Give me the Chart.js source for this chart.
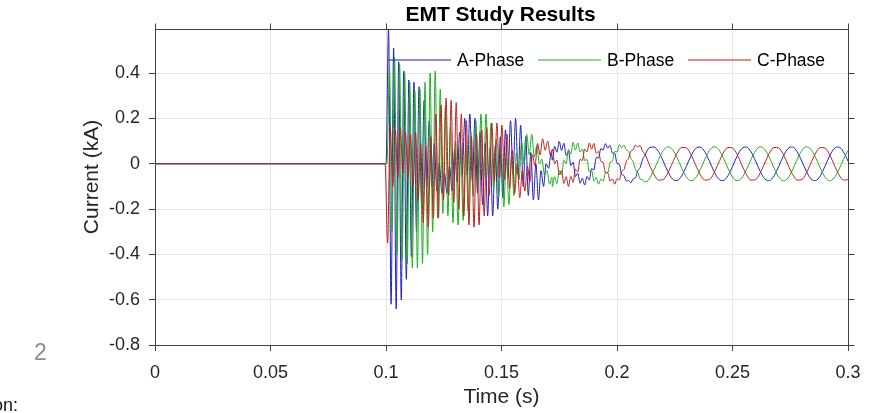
<!DOCTYPE html>
<html>
<head>
<meta charset="utf-8">
<script src="https://cdn.jsdelivr.net/npm/chart.js@4.4.0/dist/chart.umd.min.js"></script>
<style>
  body { margin: 0; background: #fff; }
  #wrap { position: relative; width: 874px; height: 413px; overflow: hidden; }
  #wrap span { position: absolute; line-height: 1; font-family: "Liberation Sans", Arial, sans-serif; white-space: nowrap; }
  .stray { color: #8c8c8c; font-size: 23px; }
  .cut { color: #111; font-size: 18px; }
</style>
</head>
<body>
<div id="wrap">
  <canvas id="emtChart" width="874" height="413"></canvas>
  <span class="stray" style="left:34px;top:341px">2</span>
  <span class="cut" style="left:-7px;top:396px">on:</span>
</div>
<script>
const phaseNames = ["A-Phase", "B-Phase", "C-Phase"];
const phaseColors = ["#1f1fc0", "#20ad20", "#bd1f1f"];
const xTicks = [0, 0.05, 0.1, 0.15, 0.2, 0.25, 0.3];
const yTicks = [-0.8, -0.6, -0.4, -0.2, 0, 0.2, 0.4];

// sampling of the recorded traces (s)
const faultTime = 0.1;
const transientStep = 0.0011;
const rippleStart = 0.172, rippleStep = 0.001;
const steadyStart = 0.216, steadyStep = 0.002;
const phaseShift = [0, 0.0004, -0.0004];

// current (kA) just after the fault, one value per transientStep
const aTransient = [
  0, 0.60, -0.62, 0.51, -0.64, 0.45, -0.60, 0.41, -0.51, 0.37,
  -0.41, 0.36, -0.30, 0.34, -0.18, 0.28, -0.11, 0.19, -0.10, 0.09,
  -0.12, 0.00, -0.13, -0.04, -0.13, -0.01, -0.12, 0.06, -0.08, 0.14,
  -0.05, 0.20, -0.05, 0.22, -0.08, 0.20, -0.13, 0.14, -0.18, 0.09,
  -0.23, 0.07, -0.23, 0.08, -0.20, 0.12, -0.15, 0.15, -0.06, 0.19,
  -0.04, 0.20, -0.05, 0.17, -0.10, 0.12, -0.14, 0.05, -0.16, 0.00,
  -0.16, -0.03, -0.10, 0.00, -0.02, 0.05
];
const bTransient = [
  0, 0.42, -0.30, 0.47, -0.40, 0.44, -0.42, 0.40, -0.44, 0.36,
  -0.46, 0.32, -0.46, 0.33, -0.44, 0.36, -0.40, 0.40, -0.30, 0.41,
  -0.24, 0.33, -0.22, 0.25, -0.23, 0.16, -0.26, 0.10, -0.27, 0.08,
  -0.25, 0.08, -0.21, 0.14, -0.14, 0.19, -0.09, 0.22, -0.06, 0.22,
  -0.06, 0.18, -0.11, 0.11, -0.15, 0.06, -0.19, 0.03, -0.18, 0.03,
  -0.14, 0.05, -0.07, 0.10, 0.00, 0.13, 0.04, 0.13, 0.03, 0.08,
  0.00, 0.02, -0.05, -0.03, -0.09, -0.06
];
const cTransient = [
  0, -0.35, 0.17, -0.10, 0.15, -0.06, 0.16, -0.04, 0.14, -0.06,
  0.13, -0.10, 0.14, -0.16, 0.09, -0.26, 0.08, -0.28, 0.12, -0.24,
  0.22, -0.24, 0.26, -0.16, 0.29, -0.14, 0.28, -0.17, 0.27, -0.20,
  0.22, -0.23, 0.19, -0.27, 0.12, -0.28, 0.13, -0.27, 0.15, -0.23,
  0.16, -0.14, 0.18, -0.08, 0.18, -0.06, 0.17, -0.07, 0.13, -0.11,
  0.06, -0.13, 0.00, -0.15, -0.03, -0.12, -0.01, -0.08, 0.04, -0.01,
  0.09, 0.04, 0.11, 0.06, 0.10, 0.04
];

// small ripple while settling, one value per rippleStep
const aRipple = [
  0.016, 0.077, 0.051, 0.099, 0.059, 0.091, 0.037, 0.056, -0.008, 0.008,
  -0.056, -0.042, -0.086, -0.064, -0.094, -0.056, -0.072, -0.021, -0.027, 0.027,
  0.026, 0.067, 0.061, 0.089, 0.069, 0.081, 0.047, 0.046, 0.002, -0.002,
  -0.046, -0.052, -0.076, -0.074, -0.084, -0.066, -0.062, -0.031, -0.017, 0.017,
  0.036, 0.057, 0.071
];
const bRipple = [
  -0.100, -0.057, -0.087, -0.030, -0.049, 0.016, 0.001, 0.064, 0.042, 0.095,
  0.060, 0.092, 0.052, 0.065, 0.014, 0.019, -0.036, -0.029, -0.077, -0.060,
  -0.090, -0.067, -0.077, -0.040, -0.039, 0.006, 0.011, 0.054, 0.052, 0.085,
  0.070, 0.082, 0.062, 0.055, 0.024, 0.009, -0.026, -0.039, -0.067, -0.070,
  -0.080, -0.077, -0.067
];
const cRipple = [
  0.064, 0.001, 0.016, -0.049, -0.030, -0.087, -0.057, -0.100, -0.055, -0.082,
  -0.024, -0.036, 0.019, 0.014, 0.065, 0.052, 0.092, 0.065, 0.090, 0.047,
  0.054, 0.011, 0.006, -0.039, -0.040, -0.077, -0.067, -0.090, -0.065, -0.072,
  -0.034, -0.026, 0.009, 0.024, 0.055, 0.062, 0.082, 0.075, 0.080, 0.057,
  0.044, 0.021, -0.004
];

// steady state, one value per steadyStep
const aSteady = [
  0.074, 0.053, 0.012, -0.034, -0.067, -0.074, -0.053, -0.012, 0.034, 0.067,
  0.074, 0.053, 0.012, -0.034, -0.067, -0.074, -0.053, -0.012, 0.034, 0.067,
  0.074, 0.053, 0.012, -0.034, -0.067, -0.074, -0.053, -0.012, 0.034, 0.067,
  0.074, 0.053, 0.012, -0.034, -0.067, -0.074, -0.053, -0.012, 0.034, 0.067,
  0.074, 0.053, 0.012
];
const bSteady = [
  -0.027, 0.019, 0.058, 0.075, 0.063, 0.027, -0.019, -0.058, -0.075, -0.063,
  -0.027, 0.019, 0.058, 0.075, 0.063, 0.027, -0.019, -0.058, -0.075, -0.063,
  -0.027, 0.019, 0.058, 0.075, 0.063, 0.027, -0.019, -0.058, -0.075, -0.063,
  -0.027, 0.019, 0.058, 0.075, 0.063, 0.027, -0.019, -0.058, -0.075, -0.063,
  -0.027, 0.019, 0.058
];
const cSteady = [
  -0.047, -0.072, -0.070, -0.041, 0.004, 0.047, 0.072, 0.070, 0.041, -0.004,
  -0.047, -0.072, -0.070, -0.041, 0.004, 0.047, 0.072, 0.070, 0.041, -0.004,
  -0.047, -0.072, -0.070, -0.041, 0.004, 0.047, 0.072, 0.070, 0.041, -0.004,
  -0.047, -0.072, -0.070, -0.041, 0.004, 0.047, 0.072, 0.070, 0.041, -0.004,
  -0.047, -0.072, -0.070
];

function trace(transient, ripple, steady, shift) {
  const pts = [{ x: 0, y: 0 }];
  transient.forEach((v, k) => pts.push({ x: faultTime + shift + k * transientStep, y: v }));
  ripple.forEach((v, j) => pts.push({ x: rippleStart + j * rippleStep, y: v }));
  steady.forEach((v, i) => pts.push({ x: steadyStart + i * steadyStep, y: v }));
  return pts;
}

const traces = [
  trace(aTransient, aRipple, aSteady, phaseShift[0]),
  trace(bTransient, bRipple, bSteady, phaseShift[1]),
  trace(cTransient, cRipple, cSteady, phaseShift[2]),
];

const font = '"Liberation Sans", Arial, Helvetica, sans-serif';

// box, outer ticks on top/right, legend and titles, drawn like the MATLAB figure
const frame = {
  id: "frame",
  afterDraw(chart) {
    const { ctx, chartArea: a, scales } = chart;
    ctx.save();
    ctx.strokeStyle = "#404040";
    ctx.lineWidth = 1;
    ctx.beginPath();
    const top = Math.round(a.top - 0.5) + 0.5;
    const right = Math.round(a.right - 0.5) + 0.5;
    ctx.moveTo(a.left, top); ctx.lineTo(a.right + 1, top);
    ctx.moveTo(right, a.top); ctx.lineTo(right, a.bottom);
    xTicks.forEach(v => {
      const x = Math.round(scales.x.getPixelForValue(v) - 0.5) + 0.5;
      ctx.moveTo(x, top); ctx.lineTo(x, top - 6);
    });
    yTicks.forEach(v => {
      const y = Math.round(scales.y.getPixelForValue(v) - 0.5) + 0.5;
      ctx.moveTo(right, y); ctx.lineTo(right + 6, y);
    });
    ctx.stroke();

    // legend (no box)
    const legendX = [388, 538, 688];
    const legendY = 60;
    ctx.font = "17.5px " + font;
    ctx.textBaseline = "alphabetic";
    ctx.textAlign = "left";
    phaseNames.forEach((name, i) => {
      ctx.strokeStyle = phaseColors[i];
      ctx.lineWidth = 1.2;
      ctx.beginPath();
      ctx.moveTo(legendX[i], legendY);
      ctx.lineTo(legendX[i] + 63, legendY);
      ctx.stroke();
      ctx.fillStyle = "#000";
      ctx.fillText(name, legendX[i] + 69, legendY + 6);
    });

    // title and axis labels
    const cx = (a.left + a.right) / 2;
    ctx.fillStyle = "#000";
    ctx.textAlign = "center";
    ctx.font = "bold 21px " + font;
    ctx.fillText("EMT Study Results", cx - 1, 21);
    ctx.fillStyle = "#262626";
    ctx.font = "21px " + font;
    ctx.fillText("Time (s)", cx, 403);
    ctx.translate(98, 177);
    ctx.rotate(-Math.PI / 2);
    ctx.fillText("Current (kA)", 0, 0);
    ctx.restore();
  }
};

new Chart(document.getElementById("emtChart"), {
  type: "line",
  data: {
    datasets: traces.map((pts, i) => ({
      label: phaseNames[i],
      data: pts,
      borderColor: phaseColors[i],
      borderWidth: 1,
      pointRadius: 0,
      fill: false,
      cubicInterpolationMode: "monotone",
      order: 3 - i,
    })),
  },
  options: {
    responsive: false,
    animation: false,
    events: [],
    layout: { padding: { top: 29, right: 26, left: 0, bottom: 0 } },
    plugins: {
      legend: { display: false },
      title: { display: false },
      tooltip: { enabled: false },
    },
    scales: {
      x: {
        type: "linear",
        min: 0,
        max: 0.3,
        afterFit: s => { s.height = 68; },
        afterBuildTicks: s => { s.ticks = xTicks.map(v => ({ value: v })); },
        ticks: {
          padding: 11,
          maxRotation: 0,
          color: "#262626",
          font: { family: font, size: 18 },
          callback: v => String(v),
        },
        grid: { color: "#e6e6e6", tickColor: "#404040", tickLength: 6 },
        border: { color: "#404040", width: 1 },
      },
      y: {
        type: "linear",
        min: -0.8,
        max: 0.595,
        afterFit: s => { s.width = 155; },
        afterBuildTicks: s => { s.ticks = yTicks.map(v => ({ value: v })); },
        ticks: {
          padding: 9,
          color: "#262626",
          font: { family: font, size: 18 },
          callback: v => String(v),
        },
        grid: { color: "#e6e6e6", tickColor: "#404040", tickLength: 6 },
        border: { color: "#404040", width: 1 },
      },
    },
  },
  plugins: [frame],
});
</script>
</body>
</html>
